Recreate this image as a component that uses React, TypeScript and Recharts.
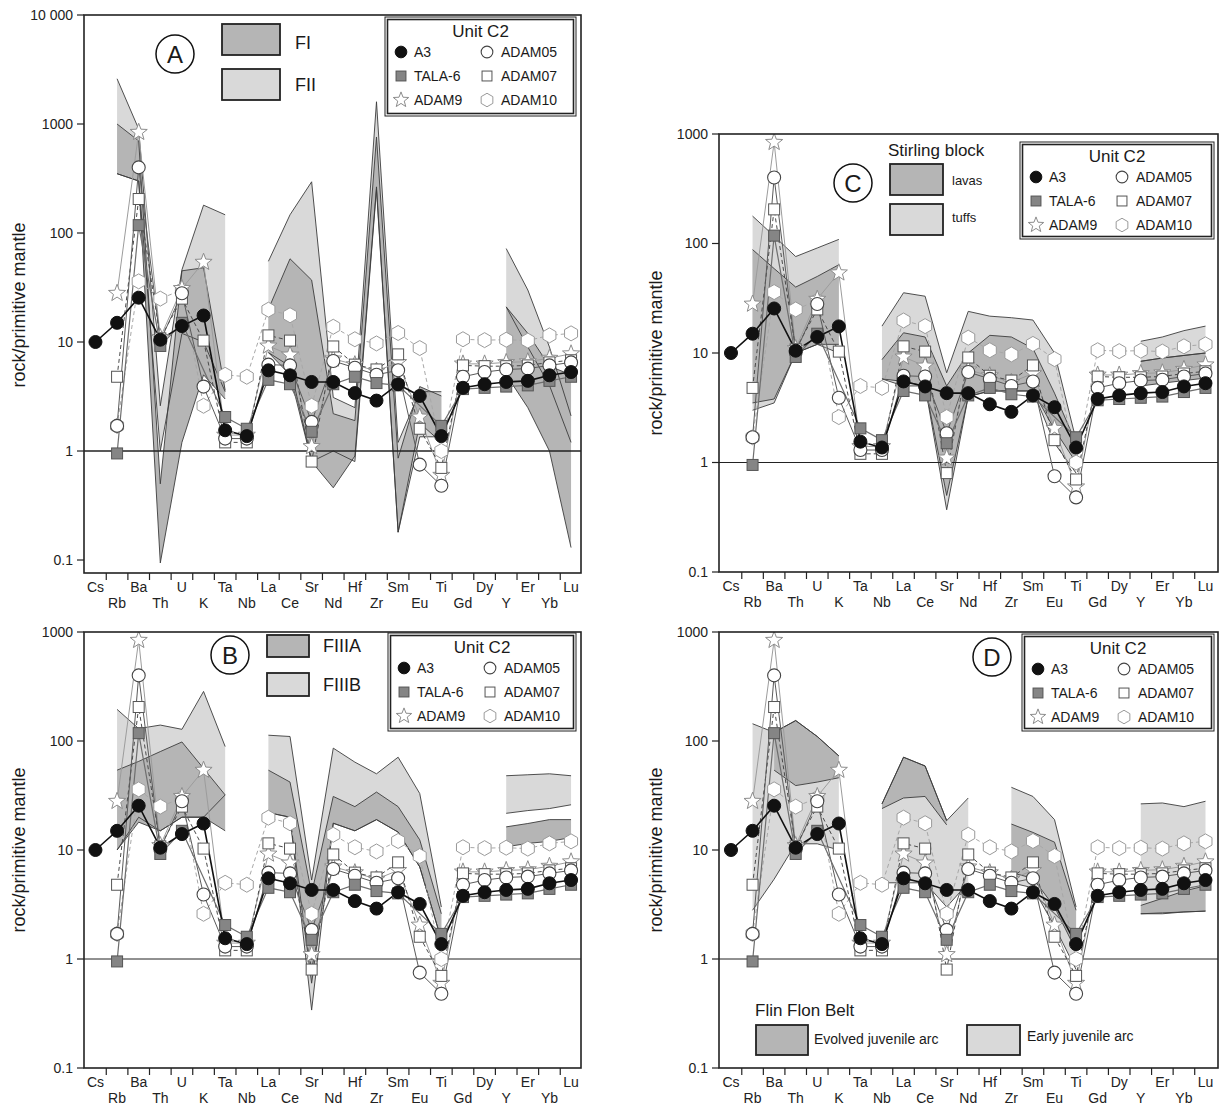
import React from "react";
import { ComposedChart, Line, Area, XAxis, YAxis, ReferenceLine } from "recharts";

const FONT = "'Liberation Sans', Arial, Helvetica, sans-serif";

type Num = number | null;

const ELEMENTS = ["Cs", "Rb", "Ba", "Th", "U", "K", "Ta", "Nb", "La", "Ce", "Sr", "Nd", "Hf", "Zr", "Sm", "Eu", "Ti", "Gd", "Dy", "Y", "Er", "Yb", "Lu"];

// Unit C2 samples (rock / primitive mantle), same in every panel
const A3: Num[] = [10, 15, 25.5, 10.5, 14, 17.5, 1.55, 1.37, 5.5, 4.95, 4.3, 4.3, 3.4, 2.9, 4.1, 3.2, 1.37, 3.8, 4.1, 4.3, 4.4, 4.95, 5.3];
const TALA6: Num[] = [null, 0.95, 118, 9.2, 15, null, 2.05, 1.6, 4.5, 4.1, 1.5, 4.1, 4.8, 4.2, 4.0, null, 1.7, 3.7, 3.8, 3.9, 4.0, 4.4, 4.8];
const ADAM05: Num[] = [null, 1.7, 400, 10.2, 28, 3.9, 1.3, 1.3, 6.2, 6.1, 1.85, 6.7, 5.8, 5.0, 5.5, 0.75, 0.48, 4.8, 5.3, 5.6, 5.7, 6.1, 6.5];
const ADAM07: Num[] = [null, 4.8, 205, 10.8, 25, 10.3, 1.2, 1.2, 11.5, 10.3, 0.8, 9.1, 6.2, 5.6, 7.7, 1.6, 0.7, 6.1, 6.0, 6.0, 6.1, 6.5, 6.8];
const ADAM9: Num[] = [null, 28, 840, 11, 31, 54, 1.4, 1.4, 9.2, 7.6, 1.1, 7.0, 6.2, 5.4, 6.5, 2.05, 0.6, 6.3, 6.3, 6.5, 6.6, 7.1, 7.8];
const ADAM10: Num[] = [null, 1.7, 36, 25, 30, 2.6, 5.0, 4.8, 19.8, 17.6, 2.6, 13.8, 10.6, 9.7, 12.1, 8.8, 1.0, 10.6, 10.4, 10.5, 10.3, 11.5, 12];

// panel A: FI / FII fields
const A_FII_LO: Num[] = [null, 350, 300, 1.0, 12, 10, 3.5, null, 8, 6, 0.8, 1.0, 0.8, 250, 0.18, 1.35, 1.35, null, null, 21, 9, 4, 1.2];
const A_FII_HI: Num[] = [null, 2600, 900, 2.6, 46, 180, 147, null, 55, 147, 295, 3.1, 2.5, 1600, 1.2, 3.5, 3.5, null, null, 72, 30, 9, 2.1];
const A_FI_LO: Num[] = [null, 350, 300, 0.094, 1.2, 5, 3.0, null, 8, 5, 0.8, 0.46, 0.9, 265, 0.18, 1.8, 1.2, null, null, 5, 2.5, 1.0, 0.13];
const A_FI_HI: Num[] = [null, 1000, 700, 0.5, 45, 48, 3.6, null, 20, 58, 37, 2.2, 1.9, 760, 0.86, 3.9, 3.2, null, null, 21, 12, 6, 5];

// panel B: FIIIA / FIIIB
const B_FIIIB_LO: Num[] = [null, 10, 20, 15, 20, 20, 32, null, 22, 20, 0.34, 17.6, 15, 19, 14.6, 7, 1.5, null, null, 21.7, 23, 24, 26];
const B_FIIIB_HI: Num[] = [null, 195, 130, 140, 128, 285, 89, null, 113, 110, 5.3, 86, 64, 50, 71, 33, 3.0, null, null, 48, 49, 50, 48];
const B_FIIIA_LO: Num[] = [null, 10, 18, 15, 20, 20, 15, null, 22, 20, 0.6, 17.6, 15, 19, 14.6, 7, 1.5, null, null, 10.7, 11.5, 12, 13];
const B_FIIIA_HI: Num[] = [null, 54, 65, 80, 98, 56, 32, null, 54, 42, 4, 31, 25, 34, 25, 12.4, 2.6, null, null, 16.3, 17.5, 19, 19];

// panel C: Stirling block lavas / tuffs
const C_TUFF_LO: Num[] = [null, 3.0, 3.5, 10, 12, 10, null, 5.8, 5, 5, 0.37, 4, 4.5, 4.5, 4.5, 1.5, 0.8, null, null, 8.4, 9, 9.5, 10];
const C_TUFF_HI: Num[] = [null, 178, 117, 76, 91, 109, null, 17.6, 35.5, 33, 6.6, 24, 21.7, 21, 20, 10, 1.6, null, null, 12.8, 14, 16, 17.6];
const C_LAVA_LO: Num[] = [null, 3.5, 3.8, 10, 12, 12, null, 5.8, 5.5, 5, 0.5, 4, 4.5, 4.5, 4.5, 2, 1.0, null, null, 5, 5.3, 5.6, 5.9];
const C_LAVA_HI: Num[] = [null, 88, 59, 40, 50, 64, null, 8.7, 15.3, 14, 5, 10, 14.5, 14, 11, 4.3, 1.5, null, null, 8.4, 9, 9.5, 10];

// panel D: Flin Flon early / evolved juvenile arc
const D_EARLY_LO: Num[] = [null, 2.8, 5.4, 11.4, 11.4, 10, null, 5, 5, 5, 3, 5, null, 5, 4.5, 2, 0.8, null, null, 2.6, 2.6, 2.7, 2.75];
const D_EARLY_HI: Num[] = [null, 144, 120, 154, 110, 73, null, 26.5, 71, 59, 18.6, 30, null, 37.6, 31, 19, 3.0, null, null, 26.5, 27, 25, 28];
const D_EVOL_LO: Num[] = [null, null, 54, 39, 42, 46, null, 24, 30, 31, 17, null, null, 6.2, 5.5, 3, 1.2, null, null, 2.6, 2.65, 2.7, 2.75];
const D_EVOL_HI: Num[] = [null, null, 120, 154, 110, 73, null, 26.5, 71, 59, 18.6, null, null, 17.3, 14.5, 11.8, 2.8, null, null, 3.1, 3.6, 4.2, 4.7];

const DARK = "#b5b5b5";
const LIGHT = "#d9d9d9";

type Sample = { key: string; label: string; values: Num[]; shape: string; stroke: string; width: number; dash?: string };

// drawing order: last on top
const SAMPLES: Sample[] = [
  { key: "ADAM10", label: "ADAM10", values: ADAM10, shape: "hex", stroke: "#a8a8a8", width: 1, dash: "4 3" },
  { key: "ADAM9", label: "ADAM9", values: ADAM9, shape: "star", stroke: "#9c9c9c", width: 1 },
  { key: "ADAM07", label: "ADAM07", values: ADAM07, shape: "sq", stroke: "#4a4a4a", width: 1, dash: "4 3" },
  { key: "ADAM05", label: "ADAM05", values: ADAM05, shape: "circle", stroke: "#5a5a5a", width: 1 },
  { key: "TALA6", label: "TALA-6", values: TALA6, shape: "gsq", stroke: "#6e6e6e", width: 1.2 },
  { key: "A3", label: "A3", values: A3, shape: "dot", stroke: "#111", width: 1.6 },
];

function starPoints(cx: number, cy: number, R: number, r: number) {
  const pts: string[] = [];
  for (let k = 0; k < 10; k++) {
    const a = -Math.PI / 2 + (k * Math.PI) / 5;
    const rad = k % 2 === 0 ? R : r;
    pts.push(`${cx + rad * Math.cos(a)},${cy + rad * Math.sin(a)}`);
  }
  return pts.join(" ");
}

function hexPoints(cx: number, cy: number, R: number) {
  const pts: string[] = [];
  for (let k = 0; k < 6; k++) {
    const a = -Math.PI / 2 + (k * Math.PI) / 3;
    pts.push(`${cx + R * Math.cos(a)},${cy + R * Math.sin(a)}`);
  }
  return pts.join(" ");
}

function Marker({ shape, x, y, s = 1 }: { shape: string; x: number; y: number; s?: number }) {
  if (shape === "dot") return <circle cx={x} cy={y} r={6.5 * s} fill="#111" stroke="#111" />;
  if (shape === "circle") return <circle cx={x} cy={y} r={6.5 * s} fill="#fff" stroke="#444" strokeWidth={1.1} />;
  if (shape === "gsq")
    return <rect x={x - 5.5 * s} y={y - 5.5 * s} width={11 * s} height={11 * s} fill="#858585" stroke="#555" strokeWidth={1} />;
  if (shape === "sq")
    return <rect x={x - 5.5 * s} y={y - 5.5 * s} width={11 * s} height={11 * s} fill="#fff" stroke="#555" strokeWidth={1} />;
  if (shape === "star") return <polygon points={starPoints(x, y, 9 * s, 3.8 * s)} fill="#fff" stroke="#8c8c8c" strokeWidth={1} />;
  return <polygon points={hexPoints(x, y, 7.5 * s)} fill="#fff" stroke="#9a9a9a" strokeWidth={1} />;
}

const dotRenderer = (shape: string, name: string) => (p: any) => {
  const k = `${name}-${p.index}`;
  if (p.cx == null || p.cy == null || p.value == null || Number.isNaN(p.cy)) return <g key={k} />;
  return (
    <g key={k}>
      <Marker shape={shape} x={p.cx} y={p.cy} />
    </g>
  );
};

const ElementTick = (props: any) => {
  const { x, y, payload } = props;
  const v = payload.value as number;
  if (Math.abs(v - Math.round(v)) > 0.1) return <line x1={x} x2={x} y1={y} y2={y + 7} stroke="#222" strokeWidth={1.2} />;
  const i = Math.round(v);
  return (
    <text x={x} y={y + (i % 2 === 0 ? 19 : 35)} textAnchor="middle" fontSize={14} fill="#222" fontFamily={FONT}>
      {ELEMENTS[i]}
    </text>
  );
};

const X_TICKS = Array.from({ length: 45 }, (_, k) => k / 2);

type Band = { key: string; lo: Num[]; hi: Num[]; fill: string };
type PanelCfg = {
  id: string;
  left: number;
  top: number;
  right: number;
  bottom: number;
  yMin: number;
  yMax: number;
  yTicks: number[];
  xDomain: [number, number];
  bands: Band[];
  refWidth: number;
};

const PANELS: PanelCfg[] = [
  {
    id: "A", left: 84, top: 15, right: 581, bottom: 573, yMin: 0.076, yMax: 10000,
    yTicks: [0.1, 1, 10, 100, 1000, 10000], xDomain: [-0.53, 22.46], refWidth: 1.6,
    bands: [
      { key: "aFII", lo: A_FII_LO, hi: A_FII_HI, fill: LIGHT },
      { key: "aFI", lo: A_FI_LO, hi: A_FI_HI, fill: DARK },
    ],
  },
  {
    id: "C", left: 719, top: 134, right: 1218, bottom: 572, yMin: 0.1, yMax: 1000,
    yTicks: [0.1, 1, 10, 100, 1000], xDomain: [-0.556, 22.58], refWidth: 1,
    bands: [
      { key: "cTuff", lo: C_TUFF_LO, hi: C_TUFF_HI, fill: LIGHT },
      { key: "cLava", lo: C_LAVA_LO, hi: C_LAVA_HI, fill: DARK },
    ],
  },
  {
    id: "B", left: 84, top: 632, right: 581, bottom: 1068, yMin: 0.1, yMax: 1000,
    yTicks: [0.1, 1, 10, 100, 1000], xDomain: [-0.53, 22.46], refWidth: 1,
    bands: [
      { key: "bFIIIB", lo: B_FIIIB_LO, hi: B_FIIIB_HI, fill: LIGHT },
      { key: "bFIIIA", lo: B_FIIIA_LO, hi: B_FIIIA_HI, fill: DARK },
    ],
  },
  {
    id: "D", left: 719, top: 632, right: 1218, bottom: 1068, yMin: 0.1, yMax: 1000,
    yTicks: [0.1, 1, 10, 100, 1000], xDomain: [-0.556, 22.58], refWidth: 1,
    bands: [
      { key: "dEarly", lo: D_EARLY_LO, hi: D_EARLY_HI, fill: LIGHT },
      { key: "dEvol", lo: D_EVOL_LO, hi: D_EVOL_HI, fill: DARK },
    ],
  },
];

const fmtY = (v: number) => (v === 10000 ? "10 000" : String(v));

function SpiderPanel({ p }: { p: PanelCfg }) {
  const YW = 80, MT = 10, MR = 10, XH = 45, MB = 2;
  const plotW = p.right - p.left;
  const plotH = p.bottom - p.top;
  const rows = ELEMENTS.map((el, i) => {
    const r: Record<string, any> = { i, el };
    SAMPLES.forEach((s) => {
      r[s.key] = s.values[i];
    });
    p.bands.forEach((b) => {
      const lo = b.lo[i];
      const hi = b.hi[i];
      r[b.key] = lo != null && hi != null ? [lo, hi] : null;
      r[b.key + "Lo"] = lo;
      r[b.key + "Hi"] = hi;
    });
    return r;
  });

  return (
    <div style={{ position: "absolute", left: p.left - YW, top: p.top - MT }}>
      <ComposedChart width={plotW + YW + MR} height={plotH + MT + XH + MB} data={rows} margin={{ top: MT, right: MR, bottom: MB, left: 0 }}>
        <XAxis
          type="number"
          dataKey="i"
          domain={p.xDomain}
          ticks={X_TICKS}
          interval={0}
          allowDataOverflow
          height={XH}
          axisLine={false}
          tickLine={false}
          tickSize={0}
          tickMargin={0}
          tick={<ElementTick />}
        />
        <YAxis
          type="number"
          scale="log"
          domain={[p.yMin, p.yMax]}
          ticks={p.yTicks}
          interval={0}
          allowDataOverflow
          width={YW}
          axisLine={false}
          tickSize={7}
          tickMargin={4}
          tickLine={{ stroke: "#222", strokeWidth: 1.2 }}
          tickFormatter={fmtY}
          tick={{ fill: "#222", fontSize: 14, fontFamily: FONT }}
        />
        {p.bands.map((b) => (
          <Area
            key={b.key}
            dataKey={b.key}
            type="linear"
            stroke="none"
            fill={b.fill}
            fillOpacity={1}
            isAnimationActive={false}
            dot={false}
            activeDot={false}
          />
        ))}
        {p.bands.flatMap((b) =>
          ["Lo", "Hi"].map((s) => (
            <Line
              key={b.key + s}
              dataKey={b.key + s}
              type="linear"
              stroke="#3c3c3c"
              strokeWidth={0.9}
              dot={false}
              activeDot={false}
              isAnimationActive={false}
            />
          ))
        )}
        <ReferenceLine y={1} stroke="#222" strokeWidth={p.refWidth} />
        {SAMPLES.map((s) => (
          <Line
            key={s.key}
            dataKey={s.key}
            type="linear"
            stroke={s.stroke}
            strokeWidth={s.width}
            strokeDasharray={s.dash}
            connectNulls
            dot={dotRenderer(s.shape, p.id + s.key)}
            activeDot={false}
            isAnimationActive={false}
          />
        ))}
      </ComposedChart>
    </div>
  );
}

const LEGEND_COLS = [
  ["A3", "TALA6", "ADAM9"],
  ["ADAM05", "ADAM07", "ADAM10"],
];

function UnitLegend({ x, y, w, h }: { x: number; y: number; w: number; h: number }) {
  const byKey: Record<string, Sample> = {};
  SAMPLES.forEach((s) => (byKey[s.key] = s));
  return (
    <g>
      <rect x={x} y={y} width={w} height={h} fill="#fff" stroke="#222" strokeWidth={1} />
      <rect x={x + 2.5} y={y + 2.5} width={w - 5} height={h - 5} fill="none" stroke="#222" strokeWidth={1.6} />
      <text x={x + w / 2} y={y + 20} textAnchor="middle" fontSize={17}>
        Unit C2
      </text>
      {LEGEND_COLS.map((col, c) =>
        col.map((k, r) => {
          const s = byKey[k];
          const cy = y + 35 + r * 24;
          return (
            <g key={k}>
              <Marker shape={s.shape} x={x + (c === 0 ? 16 : 102)} y={cy} s={0.9} />
              <text x={x + (c === 0 ? 29 : 116)} y={cy + 5} fontSize={14}>
                {s.label}
              </text>
            </g>
          );
        })
      )}
    </g>
  );
}

function Letter({ x, y, t }: { x: number; y: number; t: string }) {
  return (
    <g>
      <circle cx={x} cy={y} r={19} fill="#fff" stroke="#111" strokeWidth={1.5} />
      <text x={x} y={y + 8.5} textAnchor="middle" fontSize={24}>
        {t}
      </text>
    </g>
  );
}

function Swatch({ x, y, w, h, fill }: { x: number; y: number; w: number; h: number; fill: string }) {
  return <rect x={x} y={y} width={w} height={h} fill={fill} stroke="#222" strokeWidth={1.8} />;
}

function YTitle({ x, y }: { x: number; y: number }) {
  return (
    <text x={x} y={y} transform={`rotate(-90 ${x} ${y})`} textAnchor="middle" fontSize={18} dominantBaseline="middle">
      rock/primitive mantle
    </text>
  );
}

export default function App() {
  return (
    <div style={{ position: "relative", width: 1224, height: 1106, background: "#fff", fontFamily: FONT }}>
      <style>{"body{margin:0;background:#fff}"}</style>
      {PANELS.map((p) => (
        <SpiderPanel key={p.id} p={p} />
      ))}
      <svg
        width={1224}
        height={1106}
        style={{ position: "absolute", left: 0, top: 0, pointerEvents: "none" }}
        fontFamily={FONT}
        fill="#1a1a1a"
      >
        {PANELS.map((p) => (
          <rect key={p.id} x={p.left} y={p.top} width={p.right - p.left} height={p.bottom - p.top} fill="none" stroke="#222" strokeWidth={1.6} />
        ))}
        <YTitle x={20} y={305} />
        <YTitle x={657} y={353} />
        <YTitle x={20} y={850} />
        <YTitle x={657} y={850} />

        {/* A */}
        <Letter x={175} y={54} t="A" />
        <Swatch x={222} y={24} w={58} h={31} fill={DARK} />
        <Swatch x={222} y={69} w={58} h={31} fill={LIGHT} />
        <text x={295} y={49} fontSize={18}>FI</text>
        <text x={295} y={91} fontSize={18}>FII</text>
        <UnitLegend x={385} y={17} w={191} h={99} />

        {/* C */}
        <Letter x={853} y={183} t="C" />
        <text x={888} y={156} fontSize={17}>Stirling block</text>
        <Swatch x={890} y={164} w={53} h={31} fill={DARK} />
        <Swatch x={890} y={204} w={53} h={31} fill={LIGHT} />
        <text x={952} y={185} fontSize={13}>lavas</text>
        <text x={952} y={222} fontSize={13}>tuffs</text>
        <UnitLegend x={1020} y={142} w={194} h={97} />

        {/* B */}
        <Letter x={230} y={655} t="B" />
        <Swatch x={267} y={635} w={42} h={22} fill={DARK} />
        <Swatch x={267} y={673} w={42} h={23} fill={LIGHT} />
        <text x={323} y={652} fontSize={18}>FIIIA</text>
        <text x={323} y={691} fontSize={18}>FIIIB</text>
        <UnitLegend x={388} y={633} w={188} h={98} />

        {/* D */}
        <Letter x={992} y={657} t="D" />
        <UnitLegend x={1022} y={634} w={192} h={97} />
        <text x={755} y={1016} fontSize={17}>Flin Flon Belt</text>
        <Swatch x={756} y={1025} w={52} h={30} fill={DARK} />
        <text x={814} y={1044} fontSize={14}>Evolved juvenile arc</text>
        <Swatch x={967} y={1025} w={53} h={30} fill={LIGHT} />
        <text x={1027} y={1041} fontSize={14}>Early juvenile arc</text>
      </svg>
    </div>
  );
}
